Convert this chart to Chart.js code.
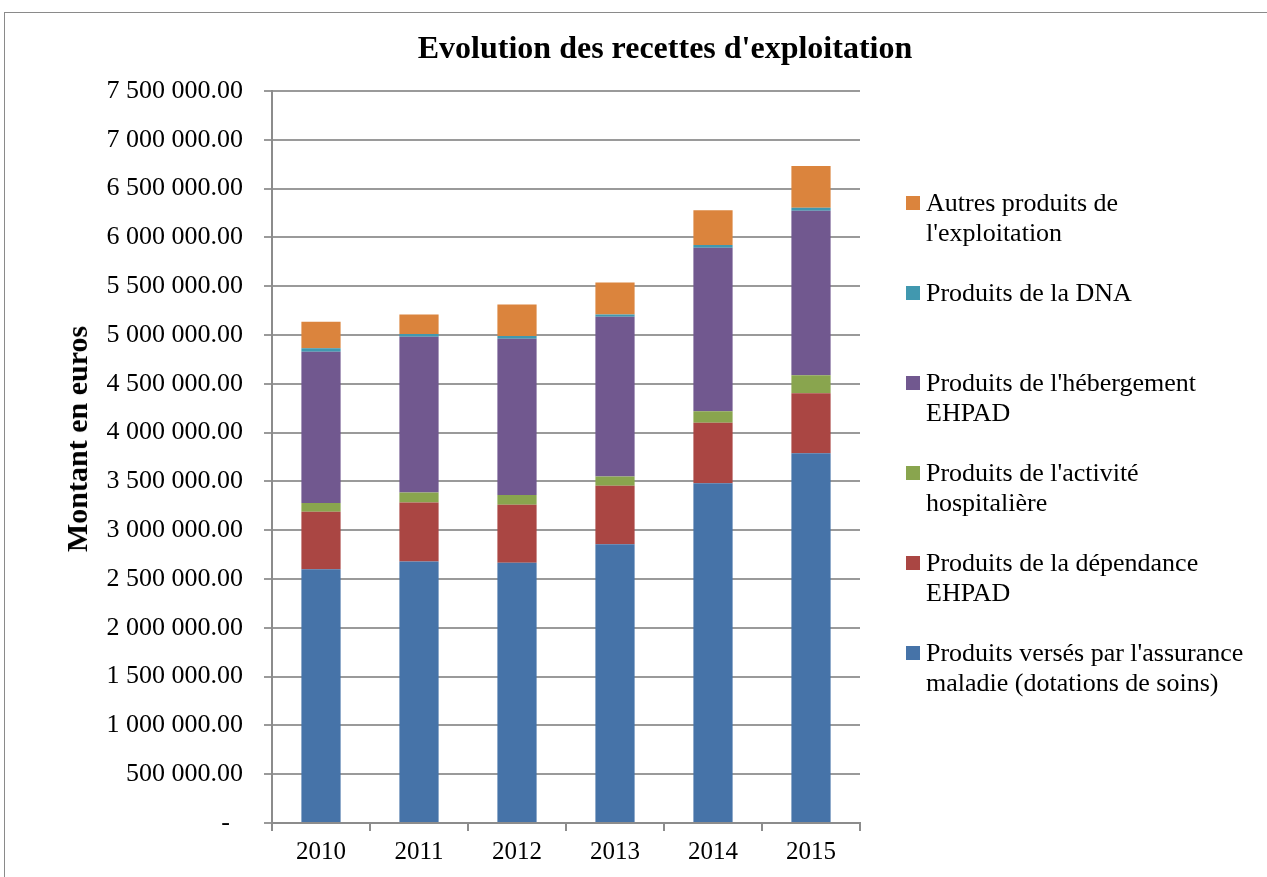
<!DOCTYPE html>
<html>
<head>
<meta charset="utf-8">
<script src="https://cdn.jsdelivr.net/npm/chart.js@4.4.0/dist/chart.umd.min.js"></script>
<style>
  html, body { margin:0; padding:0; background:#fff; overflow:hidden; }
  #wrap { position:relative; width:1267px; height:877px; font-family:'Liberation Serif','Times New Roman',serif; color:#000; }
  #frame { position:absolute; left:4px; top:12px; width:1300px; height:900px; border:1px solid #8a8a8a; box-sizing:border-box; }
  #chart { position:absolute; left:0; top:0; }
  #title { position:absolute; left:465px; width:400px; top:28px; text-align:center; white-space:nowrap; font-size:32px; font-weight:bold; line-height:38px; }
  #title span { display:inline-block; margin:0 -200px; }
  #ytitle { position:absolute; left:77px; top:439px; transform:translate(-50%,-50%) rotate(-90deg); white-space:nowrap; font-size:30px; font-weight:bold; }
  #legend { position:absolute; left:906px; top:188px; font-size:26px; line-height:29.5px; }
  .item { position:relative; height:90px; }
  .sw { position:absolute; left:0; top:8px; width:14px; height:14px; }
  .txt { position:absolute; left:20px; top:0; width:334px; }
</style>
</head>
<body>
<div id="wrap">
  <div id="frame"></div>
  <canvas id="chart" width="1267" height="877"></canvas>
  <div id="title"><span>Evolution des recettes d'exploitation</span></div>
  <div id="ytitle">Montant en euros</div>
  <div id="legend"></div>
</div>
<script>
// values (euros)
var years = ['2010', '2011', '2012', '2013', '2014', '2015'];
var assuranceMaladie = [2600000, 2680000, 2667000, 2855000, 3480000, 3788000];
var dependance       = [590000, 605000, 594000, 600000, 621000, 615000];
var hospitaliere     = [89000, 102000, 100000, 96000, 117000, 184000];
var hebergement      = [1550000, 1595000, 1600000, 1636000, 1677000, 1687000];
var dna              = [34000, 27000, 28000, 24000, 27000, 30000];
var autres           = [272000, 202000, 324000, 328000, 356000, 428000];

var seriesNames = [
  "Produits versés par l'assurance maladie (dotations de soins)",
  "Produits de la dépendance EHPAD",
  "Produits de l'activité hospitalière",
  "Produits de l'hébergement EHPAD",
  "Produits de la DNA",
  "Autres produits de l'exploitation"
];
var seriesValues = [assuranceMaladie, dependance, hospitaliere, hebergement, dna, autres];
var seriesColors = ['#4673A8', '#AA4643', '#89A54E', '#71588F', '#4198AF', '#DB843D'];

var serif = "'Liberation Serif','Times New Roman',serif";

// accounting style: spaces for thousands, "-" for zero
function fmt(v){
  if(v == 0) return '-  ';
  var s = Math.round(v).toString().replace(/\B(?=(\d{3})+(?!\d))/g, ' ');
  return s + '.00';
}

var datasets = seriesNames.map(function(name, i){
  return {
    label: name,
    data: seriesValues[i],
    backgroundColor: seriesColors[i],
    borderWidth: 0,
    categoryPercentage: 1,
    barPercentage: 0.4
  };
});

new Chart(document.getElementById('chart'), {
  type: 'bar',
  data: { labels: years, datasets: datasets },
  options: {
    responsive: false,
    animation: false,
    devicePixelRatio: 1,
    layout: { padding: { top: 91, right: 407, bottom: 0, left: 0 } },
    plugins: {
      legend: { display: false },
      tooltip: { enabled: false },
      title: { display: false }
    },
    scales: {
      x: {
        stacked: true,
        grid: { display: true, drawOnChartArea: false, drawTicks: true, tickLength: 8, color: '#8c8c8c', lineWidth: 2, offset: true },
        border: { color: '#8c8c8c', width: 2 },
        ticks: { color: '#000', font: { family: serif, size: 25 }, padding: 6, maxRotation: 0 },
        afterFit: function(s){ s.height = 54; }
      },
      y: {
        stacked: true,
        min: 0,
        max: 7500000,
        grid: { color: '#9a9a9a', lineWidth: 2, tickLength: 8 },
        border: { color: '#8c8c8c', width: 2 },
        ticks: {
          stepSize: 500000,
          color: '#000',
          font: { family: serif, size: 26 },
          padding: 21,
          callback: function(v){ return fmt(v); }
        },
        afterFit: function(s){ s.width = 272; }
      }
    }
  }
});

// legend on the right, top item is the last series
var legend = document.getElementById('legend');
for(var i = seriesNames.length - 1; i >= 0; i--){
  var it = document.createElement('div');
  it.className = 'item';
  it.innerHTML = '<span class="sw" style="background:' + seriesColors[i] + '"></span><div class="txt">' + seriesNames[i] + '</div>';
  legend.appendChild(it);
}
</script>
</body>
</html>
